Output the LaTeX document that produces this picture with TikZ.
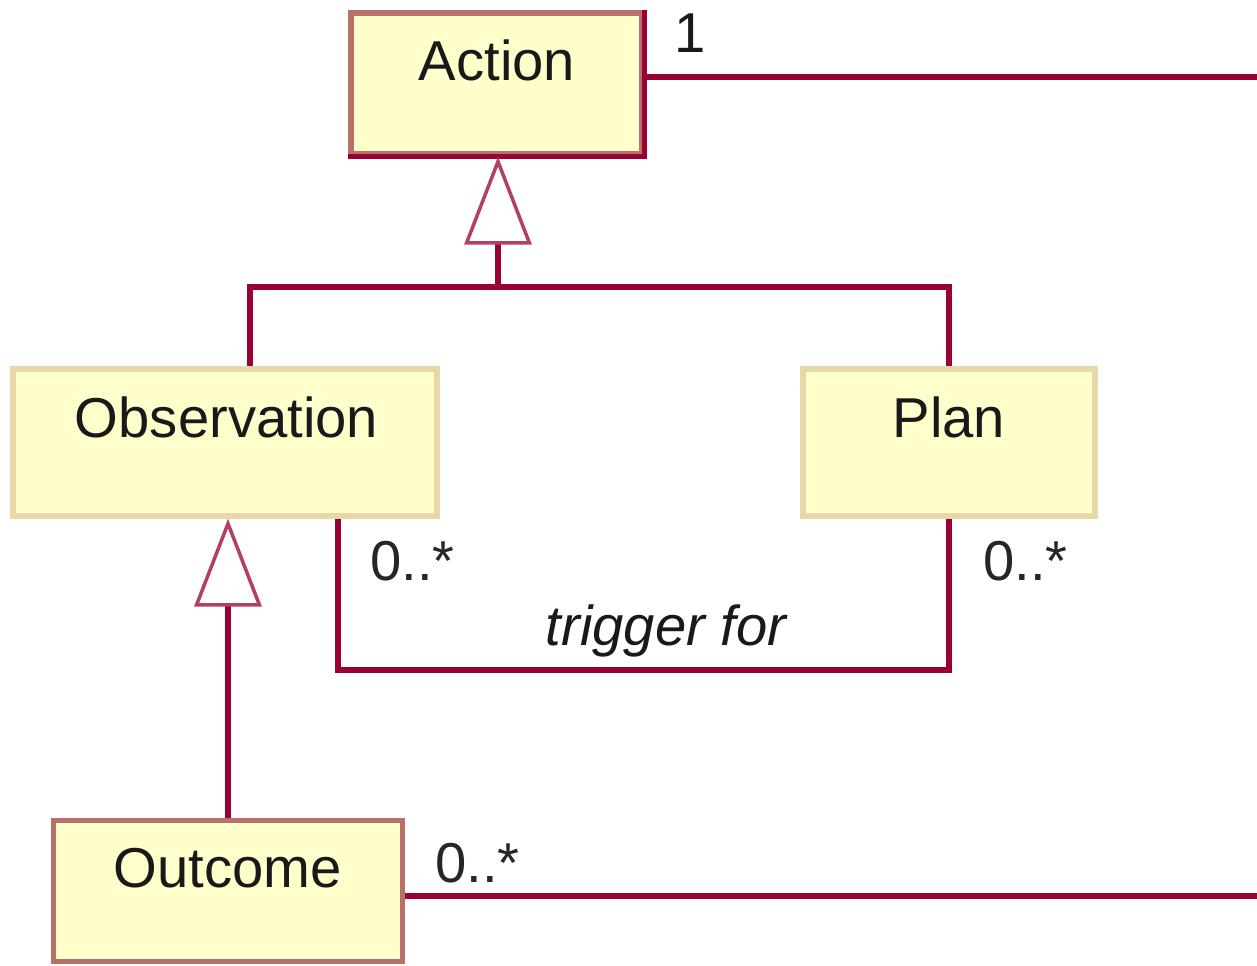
\documentclass[tikz,border=0pt]{standalone}
\usepackage{fontspec}
\setmainfont{Liberation Sans}
\usepackage{tikz}
\usetikzlibrary{arrows.meta,positioning}

\definecolor{umlred}{HTML}{990033}
\definecolor{umlrose}{HTML}{B87068}
\definecolor{umltan}{HTML}{E8D8A8}
\definecolor{umlfill}{HTML}{FFFFCC}

\tikzset{
  classbox/.style={draw=umltan, fill=umlfill, line width=3pt, rectangle, inner sep=0pt},
  classname/.style={font=\fontsize{32}{38}\selectfont, text=black!90, anchor=base, inner sep=0pt},
  mult/.style={font=\fontsize{32}{38}\selectfont, text=black!85, anchor=base west, inner sep=0pt},
  assoc/.style={draw=umlred, line width=3pt},
  gen/.style={assoc, -{Triangle[open, length=1.76cm, width=1.34cm, line width=2pt, color=umlred!75]}}
}

\begin{document}
\begin{tikzpicture}[x=0.02cm, y=-0.02cm]
  \useasboundingbox (0,0) rectangle (1257,965);
  % boxes
  \node[classbox, draw=umlrose, minimum width=5.82cm, minimum height=2.82cm] (action) at (496.5,83.5) {}; % top
  \node[classbox, minimum width=8.48cm, minimum height=2.94cm] (obs) at (225,442.5) {}; % left
  \node[classbox, minimum width=5.84cm, minimum height=2.94cm] (plan) at (949,442.5) {}; % right
  \node[classbox, draw=umlrose, minimum width=6.98cm, minimum height=2.82cm] (outcome) at (228,891) {}; % bottom
  \draw[assoc] (action.north east) -- (action.south east) -- (action.south west);
  % names
  \node[classname] (actionname) at (497,80) {Action};
  \node[classname] (obsname) at (226.5,437) {Observation};
  \node[classname] (planname) at (949,437) {Plan};
  \node[classname] (outcomename) at (227.5,887) {Outcome};
  % connectors
  \coordinate (actend) at (1257,77);
  \coordinate (outend) at (1257,896);
  \coordinate (genjoin) at (498,287);
  \coordinate (obsup) at (250,287);
  \coordinate (trigl) at (338,670);
  \draw[assoc] (actend -| action.east) -- (actend);
  \draw[assoc] (outend -| outcome.east) -- (outend);
  \draw[assoc] (obs.north -| obsup) -- (obsup) -- (genjoin -| plan.north) -- (plan.north);
  \draw[gen] (genjoin) -- (genjoin |- action.south);
  \draw[gen] (outcome.north) -- (outcome.north |- obs.south);
  \draw[assoc] (obs.south -| trigl) -- (trigl) -- (trigl -| plan.south) -- (plan.south);
  % labels
  \node[classname] (actmult) at (690,52) {1};
  \node[mult] (obsmult) at (370,580) {0..*};
  \node[mult] (planmult) at (983,580) {0..*};
  \node[mult] (outmult) at (435,882) {0..*};
  \node[classname, font=\fontsize{32}{38}\selectfont\itshape] (trigname) at (666,645) {trigger for};
\end{tikzpicture}
\end{document}
